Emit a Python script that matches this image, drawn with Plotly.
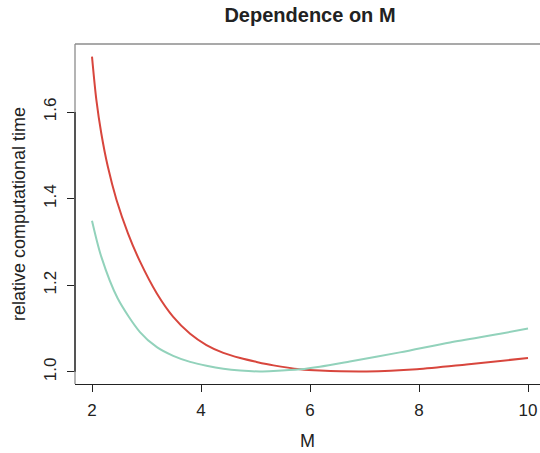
import plotly.graph_objects as go

# Data
m_red = [2.0, 2.08, 2.17, 2.29, 2.45, 2.66, 2.88, 3.19, 3.49, 3.80, 4.10, 4.41, 4.72, 5.02, 5.33, 5.82, 6.18, 7.04, 7.96, 8.87, 10.0]
t_red = [1.728, 1.628, 1.551, 1.474, 1.397, 1.320, 1.255, 1.181, 1.127, 1.088, 1.062, 1.044, 1.032, 1.023, 1.015, 1.006, 1.003, 1.001, 1.006, 1.017, 1.032]

m_green = [2.0, 2.17, 2.47, 2.88, 3.19, 3.49, 3.80, 4.10, 4.41, 4.72, 5.08, 5.33, 5.82, 6.18, 6.73, 7.65, 8.57, 9.49, 10.0]
t_green = [1.349, 1.266, 1.170, 1.092, 1.057, 1.037, 1.023, 1.014, 1.007, 1.003, 1.001, 1.002, 1.006, 1.012, 1.024, 1.045, 1.068, 1.088, 1.100]

x_ticks = [2, 4, 6, 8, 10]
y_ticks = [1.0, 1.2, 1.4, 1.6]
y_tick_labels = ["1.0", "1.2", "1.4", "1.6"]

title_text = "Dependence on M"
x_title = "M"
y_title = "relative computational time"

FONT = "Liberation Sans, Arial, Helvetica, sans-serif"
DARK = "#222222"
BOX = "#8c8c8c"

fig = go.Figure()
fig.add_trace(go.Scatter(x=m_red, y=t_red, mode="lines", line=dict(color="#d8463d", width=2, shape="spline", smoothing=0.8), showlegend=False))
fig.add_trace(go.Scatter(x=m_green, y=t_green, mode="lines", line=dict(color="#92d2bb", width=2, shape="spline", smoothing=0.8), showlegend=False))

fig.update_layout(
    width=540, height=453,
    margin=dict(l=75, r=0, t=44, b=69),
    paper_bgcolor="white", plot_bgcolor="white",
    font=dict(family=FONT, size=17, color=DARK),
    title=dict(text="<b>" + title_text + "</b>", x=310 / 540, xanchor="center", y=1 - 15 / 453, yanchor="middle",
               font=dict(family=FONT, size=20, color=DARK)),
    xaxis=dict(range=[1.688, 10.22], tickvals=x_ticks, ticks="outside", ticklen=7, tickcolor=DARK, tickwidth=1,
               showline=True, linecolor=DARK, linewidth=1.3, showgrid=False, zeroline=False,
               ticklabelstandoff=3, ticklabeloverflow="allow",
               title=dict(text=x_title, standoff=15, font=dict(family=FONT, size=18, color=DARK))),
    yaxis=dict(range=[0.972, 1.757], tickvals=y_ticks, ticktext=y_tick_labels, ticks="outside", ticklen=7,
               tickcolor=DARK, tickwidth=1, tickangle=-90, showline=False, showgrid=False, zeroline=False,
               ticklabelstandoff=4,
               title=dict(text=y_title, standoff=10, font=dict(family=FONT, size=18, color=DARK))),
    shapes=[
        dict(type="line", xref="paper", yref="paper", x0=0, x1=1, y0=1, y1=1, line=dict(color=BOX, width=1.3)),
        dict(type="line", xref="paper", yref="paper", x0=0, x1=0, y0=0, y1=1, line=dict(color=BOX, width=1.3)),
        dict(type="line", xref="paper", yref="y", x0=0, x1=0, y0=1.0, y1=1.6, line=dict(color=DARK, width=1.3)),
    ],
)

fig.write_html("out.html", config={"displayModeBar": False},
               post_script="document.body.style.margin='0px'; document.body.style.overflow='hidden';")
